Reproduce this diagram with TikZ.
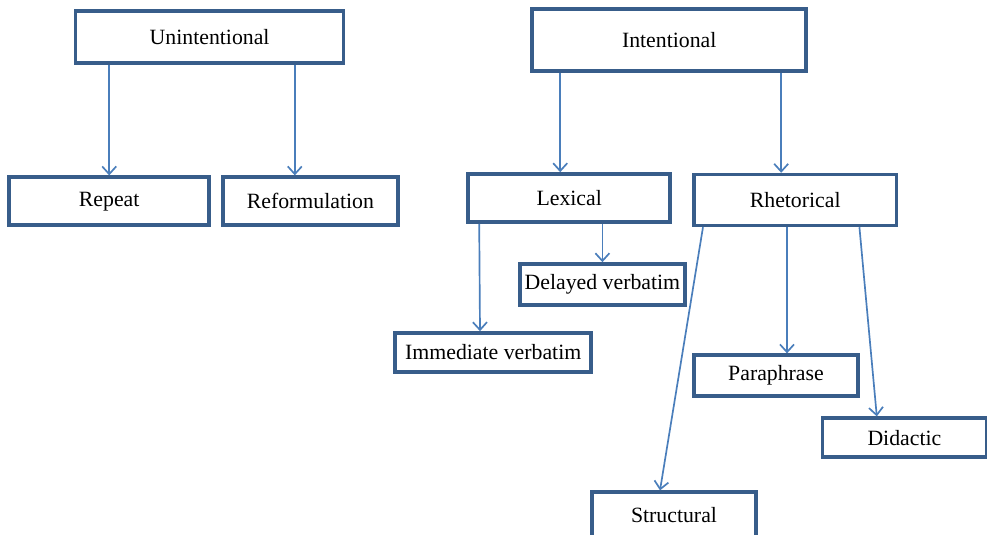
\documentclass[tikz,border=0pt]{standalone}
\usepackage{fontspec}
\setmainfont{Liberation Serif}
\usepackage{tikz}
\usetikzlibrary{arrows.meta}
\usetikzlibrary{positioning}

\definecolor{boxblue}{HTML}{385D8A}
\definecolor{lineblue}{HTML}{4A7EBB}

\tikzset{
  box/.style={draw=boxblue, line width=2.6pt, fill=white, inner sep=2pt,
    font=\fontsize{15.5}{18}\selectfont},
  arr/.style={draw=lineblue, line width=1.2pt, -{Straight Barb[length=5.5pt,width=10pt]}}
}

\begin{document}
\begin{tikzpicture}
        \useasboundingbox (0,0) rectangle (24.675,-13.35);

        % top level
        \node[box, minimum width=6.7cm, minimum height=1.3cm] (unint) at (5.24,-0.93) {Unintentional};
        \node[box, minimum width=6.85cm, minimum height=1.55cm] (intent) at (16.73,-1.0) {Intentional};

        % second level
        \node[box, minimum width=5.0cm, minimum height=1.2cm] (rep) at (2.73,-5.03) {Repeat};
        \node[box, minimum width=4.37cm, minimum height=1.2cm] (ref) at (7.76,-5.03) {Reformulation};
        \node[box, minimum width=5.05cm, minimum height=1.2cm] (lex) at (14.23,-4.95) {Lexical};
        \node[box, minimum width=5.07cm, minimum height=1.27cm] (rhet) at (19.88,-5.0) {Rhetorical};

        % third level
        \node[box, minimum width=4.12cm, minimum height=1.02cm] (del) at (15.06,-7.11) {Delayed verbatim};
        \node[box, minimum width=4.9cm, minimum height=0.97cm] (imm) at (12.33,-8.81) {Immediate verbatim};
        \node[box, minimum width=4.1cm, minimum height=1.02cm] (par) at (19.4,-9.39) {Paraphrase};
        \node[box, minimum width=4.1cm, minimum height=0.97cm] (did) at (22.61,-10.94) {Didactic};
        \node[box, minimum width=4.1cm, minimum height=1.15cm] (str) at (16.85,-12.88) {Structural};

        \draw[arr] (unint.south -| rep.north) -- (rep.north);
        \draw[arr] ([xshift=-0.39cm]ref.north |- unint.south) -- ([xshift=-0.39cm]ref.north);
        \draw[arr] ([xshift=-0.225cm]lex.north |- intent.south) -- ([xshift=-0.225cm]lex.north);
        \draw[arr] ([xshift=-0.35cm]rhet.north |- intent.south) -- ([xshift=-0.35cm]rhet.north);

        \draw[arr] (lex.south -| del.north) -- (del.north);
        \draw[arr] ([xshift=-0.35cm]imm.north |- lex.south) -- ([xshift=-0.33cm]imm.north);

        \draw[arr] ([xshift=0.275cm]rhet.south west) -- ([xshift=-0.35cm]str.north);
        \draw[arr] ([xshift=0.275cm]par.north |- rhet.south) -- ([xshift=0.275cm]par.north);
        \draw[arr] ([xshift=-0.975cm]rhet.south east) -- ([xshift=-0.69cm]did.north);
      \end{tikzpicture}
\end{document}
